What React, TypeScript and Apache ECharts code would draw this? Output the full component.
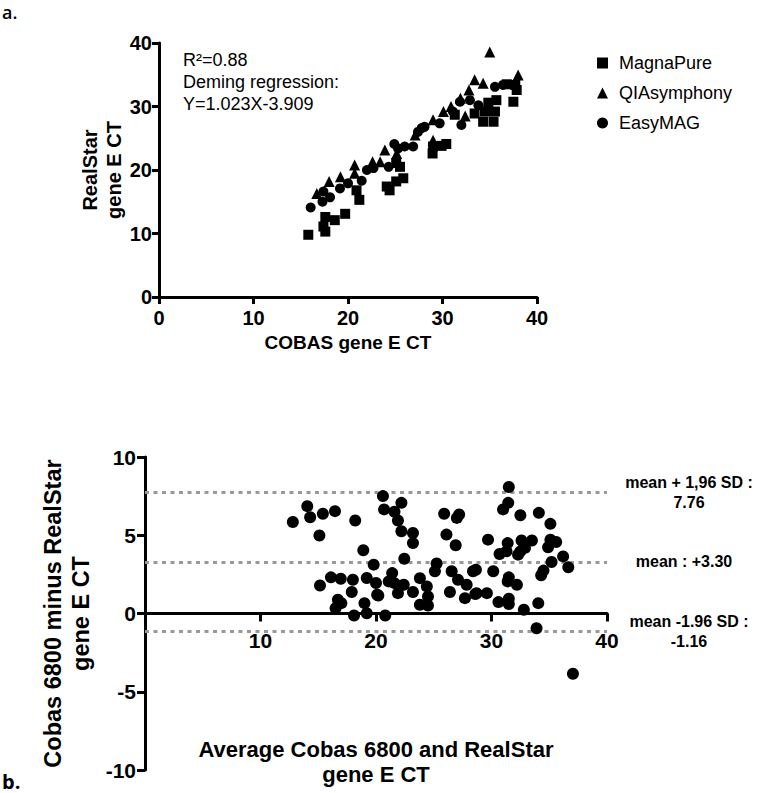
import React, { useEffect, useRef } from "react";
import * as echarts from "echarts";

// ---------- Panel a: COBAS vs RealStar (x = COBAS CT, y = RealStar CT) ----------
const magnaPure: number[][] = [
  [15.8, 9.8], [17.4, 11.1], [17.6, 10.3], [17.6, 12.6], [18.6, 12.1], [19.7, 13.1],
  [21.2, 15.3], [20.9, 16.8], [24.1, 17.4], [24.4, 16.8], [25.1, 18.2], [25.5, 20.5],
  [25.85, 18.7], [25.1, 21.1], [28.95, 22.6], [29.0, 23.7], [29.9, 23.8], [30.4, 24.1],
  [31.3, 28.7], [33.4, 28.9], [34.3, 27.6], [35.4, 27.6], [34.5, 29.2], [35.55, 29.2],
  [34.85, 30.6], [35.7, 31.0], [37.5, 30.75], [37.85, 32.6], [36.8, 33.5], [37.7, 33.4],
];
const qiaSymphony: number[][] = [
  [16.7, 16.3], [18.0, 18.2], [19.2, 18.95], [20.7, 20.8], [20.7, 19.5], [22.6, 21.3],
  [23.4, 21.3], [23.9, 23.15], [25.15, 22.6], [27.1, 25.5], [29.0, 24.7], [29.0, 27.9],
  [30.1, 29.2], [30.9, 30.0], [31.9, 31.3], [32.4, 28.5], [32.8, 32.6], [33.4, 34.2],
  [34.3, 33.65], [35.0, 38.6], [38.0, 34.96],
];
const easyMag: number[][] = [
  [16.05, 14.1], [17.3, 15.0], [18.1, 15.7], [17.4, 16.6], [19.15, 17.1], [20.0, 17.9],
  [21.45, 18.3], [22.0, 20.0], [22.7, 20.3], [24.3, 20.5], [24.9, 24.1], [25.3, 23.4],
  [26.0, 23.7], [26.9, 23.7], [27.4, 26.0], [27.8, 26.6], [28.1, 26.8], [29.7, 27.35],
  [31.1, 29.2], [31.85, 30.75], [32.0, 27.1], [32.9, 31.0], [33.8, 30.2], [35.55, 33.1],
  [36.4, 33.4],
];
const seriesNamesA = ["MagnaPure", "QIAsymphony", "EasyMAG"];
const annotationA = "R²=0.88\nDeming regression:\nY=1.023X-3.909";

// ---------- Panel b: Bland-Altman (x = average CT, y = difference) ----------
const blandAltman: number[][] = [
  [12.8, 5.85], [14.05, 6.86], [14.3, 6.15], [15.4, 6.37], [16.45, 6.54], [15.1, 4.98],
  [18.2, 5.94], [18.9, 4.04], [19.8, 3.12], [15.15, 1.79], [16.1, 2.31], [16.95, 2.22],
  [18.0, 2.16], [17.9, 1.37], [19.2, 2.27], [20.0, 1.95], [16.7, 0.88], [16.5, 0.34],
  [17.0, 0.66], [19.0, 0.66], [19.2, 0.02], [18.1, -0.13], [20.1, 1.2],
  [20.6, 7.5], [20.7, 6.65], [22.2, 7.07], [21.6, 6.5], [21.9, 5.94], [22.2, 5.26],
  [23.2, 5.15], [23.2, 4.5], [25.9, 6.37], [27.2, 6.33], [27.0, 6.11], [26.1, 5.04],
  [26.9, 4.36], [22.45, 3.5], [25.25, 3.2], [25.1, 2.7], [21.4, 2.58], [21.1, 2.05],
  [21.6, 1.94], [22.4, 1.84], [21.9, 1.3], [20.2, 1.15], [23.2, 1.37], [23.8, 2.26],
  [24.4, 1.73], [24.5, 1.09], [23.8, 0.56], [24.5, 0.51], [26.55, 2.7], [27.1, 2.16],
  [26.4, 1.37], [27.85, 1.84], [27.7, 0.98], [28.4, 2.7], [28.7, 1.3], [20.8, -0.13],
  [31.5, 8.08], [31.45, 7.07], [31.0, 6.65], [32.5, 6.28], [34.1, 6.43], [35.1, 5.73],
  [29.7, 4.72], [31.4, 4.5], [32.6, 4.66], [33.5, 4.66], [35.1, 4.72], [35.6, 4.57],
  [34.9, 4.23], [30.7, 3.8], [31.3, 3.97], [32.5, 3.97], [32.9, 4.19], [32.3, 3.76],
  [36.2, 3.65], [35.2, 3.29], [36.65, 2.95], [34.5, 2.74], [34.3, 2.44], [28.65, 2.8],
  [30.15, 2.7], [31.5, 2.31], [31.4, 2.05], [32.2, 1.84], [28.6, 1.24], [29.6, 1.3],
  [30.6, 0.73], [31.5, 0.94], [31.5, 0.6], [32.8, 0.24], [34.05, 0.66], [33.9, -0.94],
  [37.05, -3.85],
];
const upperLoA = 7.76;
const meanDiff = 3.3;
const lowerLoA = -1.16;
const upperLabel = "mean + 1,96 SD :\n7.76";
const meanLabel = "mean : +3.30";
const lowerLabel = "mean -1.96 SD :\n-1.16";
const diffMin = -10;
const diffMax = 10;

const FONT = "'Liberation Sans', Arial, Helvetica, sans-serif";

const GRID_B = { left: 145, top: 457, width: 462, height: 313 };
// move panel-b x axis (line, ticks, labels, name) up to y = 0
const zeroOffset = -GRID_B.height * (0 - diffMin) / (diffMax - diffMin);

const axisCommon = (extra: any) => ({
  type: "value",
  splitLine: { show: false },
  axisLine: { show: true, lineStyle: { color: "#000", width: 3 } },
  axisTick: { show: true, length: 7, lineStyle: { color: "#000", width: 3 } },
  axisLabel: { color: "#000", fontFamily: FONT, fontWeight: "bold", fontSize: 20 },
  nameLocation: "middle",
  nameTextStyle: { color: "#000", fontFamily: FONT, fontWeight: "bold" },
  ...extra,
});

export default function App() {
  const ref = useRef<HTMLDivElement>(null);
  useEffect(() => {
    document.body.style.margin = "0";
    const chart = echarts.init(ref.current!, null, { renderer: "svg" });
    const option: any = {
      animation: false,
      grid: [
        { left: 159, top: 43, width: 378, height: 254, outerBoundsMode: "none", containLabel: false },
        { ...GRID_B, outerBoundsMode: "none", containLabel: false },
      ],
      legend: {
        data: seriesNamesA,
        orient: "vertical",
        left: 592,
        top: 49,
        itemWidth: 11,
        itemHeight: 11,
        itemGap: 12,
        selectedMode: false,
        textStyle: { fontSize: 18, color: "#000", fontFamily: FONT, padding: [0, 0, 0, 6] },
      },
      xAxis: [
        axisCommon({
          gridIndex: 0, min: 0, max: 40, interval: 10,
          axisLine: { show: true, onZero: false, lineStyle: { color: "#000", width: 3 } },
          axisLabel: { color: "#000", fontFamily: FONT, fontWeight: "bold", fontSize: 20, margin: 11 },
          name: "COBAS gene E CT", nameGap: 36,
          nameTextStyle: { color: "#000", fontFamily: FONT, fontWeight: "bold", fontSize: 19 },
        }),
        axisCommon({
          gridIndex: 1, min: 0, max: 40, interval: 10,
          offset: zeroOffset,
          axisLine: { show: true, onZero: false, lineStyle: { color: "#000", width: 3 } },
          axisTick: { show: true, length: 8, lineStyle: { color: "#000", width: 3 } },
          axisLabel: {
            color: "#000", fontFamily: FONT, fontWeight: "bold", fontSize: 21, margin: 16,
            formatter: (v: number) => (v === 0 ? "" : String(v)),
          },
          name: "Average Cobas 6800 and RealStar\ngene E CT", nameGap: 123,
          nameTextStyle: { color: "#000", fontFamily: FONT, fontWeight: "bold", fontSize: 22, lineHeight: 25 },
        }),
      ],
      yAxis: [
        axisCommon({
          gridIndex: 0, min: 0, max: 40, interval: 10,
          axisLine: { show: true, onZero: false, lineStyle: { color: "#000", width: 3 } },
          axisLabel: { color: "#000", fontFamily: FONT, fontWeight: "bold", fontSize: 20, margin: 7 },
          name: "RealStar\ngene E CT", nameGap: 27, nameRotate: 90,
          nameTextStyle: { color: "#000", fontFamily: FONT, fontWeight: "bold", fontSize: 20, lineHeight: 24 },
        }),
        axisCommon({
          gridIndex: 1, min: diffMin, max: diffMax, interval: 5,
          axisLine: { show: true, onZero: false, lineStyle: { color: "#000", width: 3 } },
          axisTick: { show: true, length: 8, lineStyle: { color: "#000", width: 3 } },
          axisLabel: { color: "#000", fontFamily: FONT, fontWeight: "bold", fontSize: 21, margin: 9 },
          name: "Cobas 6800 minus RealStar\ngene E CT", nameGap: 37, nameRotate: 90,
          nameTextStyle: { color: "#000", fontFamily: FONT, fontWeight: "bold", fontSize: 23.5, lineHeight: 28 },
        }),
      ],
      series: [
        {
          name: "MagnaPure", type: "scatter", xAxisIndex: 0, yAxisIndex: 0,
          symbol: "rect", symbolSize: 10, itemStyle: { color: "#000", opacity: 1 }, data: magnaPure,
        },
        {
          name: "QIAsymphony", type: "scatter", xAxisIndex: 0, yAxisIndex: 0,
          symbol: "triangle", symbolSize: 11, itemStyle: { color: "#000", opacity: 1 }, data: qiaSymphony,
        },
        {
          name: "EasyMAG", type: "scatter", xAxisIndex: 0, yAxisIndex: 0,
          symbol: "circle", symbolSize: 10, itemStyle: { color: "#000", opacity: 1 }, data: easyMag,
        },
        {
          name: "Difference", type: "scatter", xAxisIndex: 1, yAxisIndex: 1,
          symbol: "circle", symbolSize: 12, itemStyle: { color: "#000", opacity: 1 }, data: blandAltman, z: 3,
          markLine: {
            silent: true,
            symbol: ["none", "none"],
            z: 1,
            lineStyle: { type: [4, 4.5], color: "#999", width: 3, opacity: 1 },
            label: {
              position: "end", distance: [82, 0], align: "center",
              color: "#000", fontFamily: FONT, fontWeight: "bold", fontSize: 16, lineHeight: 20,
            },
            data: [
              { yAxis: upperLoA, label: { formatter: upperLabel } },
              { yAxis: meanDiff, label: { formatter: meanLabel, distance: [77, 0] } },
              { yAxis: lowerLoA, label: { formatter: lowerLabel } },
            ],
          },
        },
      ],
      graphic: [
        {
          type: "text", x: 183, y: 49,
          style: { text: annotationA, fill: "#000", font: `18px ${FONT}`, lineHeight: 22 },
        },
        {
          type: "text", x: 2, y: 2,
          style: { text: "a.", fill: "#000", font: `600 18px 'Open Sans', sans-serif`, verticalAlign: "top", lineHeight: 20 },
        },
        {
          type: "text", x: 2, y: 781,
          style: { text: "b.", fill: "#000", font: `bold 20px 'Open Sans', sans-serif`, verticalAlign: "middle" },
        },
      ],
    };
    chart.setOption(option);
    return () => chart.dispose();
  }, []);
  return <div ref={ref} style={{ width: 762, height: 793 }} />;
}
